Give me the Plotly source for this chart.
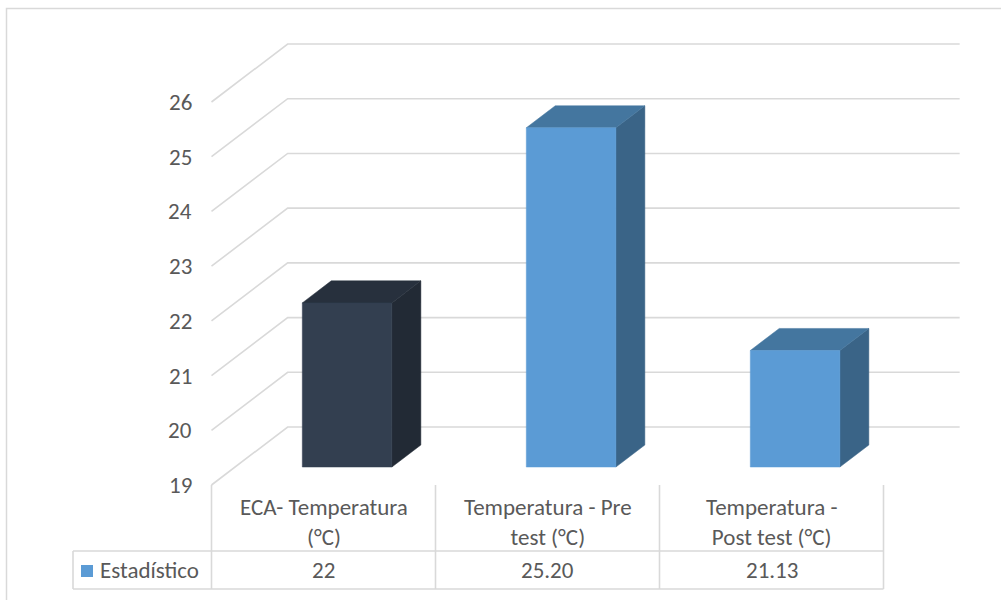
import plotly.graph_objects as go

# ---- data ----
categories = ["ECA- Temperatura<br>(°C)", "Temperatura - Pre<br>test (°C)", "Temperatura -<br>Post test (°C)"]
values = [22, 25.20, 21.13]
value_labels = ["22", "25.20", "21.13"]
series_name = "Estadístico"
tick_values = [19, 20, 21, 22, 23, 24, 25, 26]
tick_labels = ["19", "20", "21", "22", "23", "24", "25", "26"]

# ---- styling / pseudo-3D geometry ----
W, H = 1001, 600
FONT = "Carlito, Calibri, Lato, sans-serif"
FS = 23
TXT = "#595959"
GRID = "#d9d9d9"
Y_MIN = 19
DEPTH_X = 0.34      # floor depth in category units
DEPTH_Y = 1.06      # floor depth in value units
BAR_HALF = 0.2
BAR_F0, BAR_F1 = 0.31, 0.69   # bar depth span (fraction of floor depth)
FACE_COLORS = [
    ("#333f50", "#27303d", "#222a35"),
    ("#5b9bd5", "#44769f", "#3a6487"),
    ("#5b9bd5", "#44769f", "#3a6487"),
]

# axes: x in category units, y in value units (linear pixel mapping)
X0_PX, SLOT_PX = 323.5, 224.0
Y19_PX, UNIT_PX = 485.0, 54.714
x_range = [(0 - X0_PX) / SLOT_PX, (W - X0_PX) / SLOT_PX]
y_range = [Y_MIN - (H - Y19_PX) / UNIT_PX, Y_MIN + Y19_PX / UNIT_PX]

fig = go.Figure()

# gridlines: side-wall diagonal + back-wall horizontal
left, right = -0.5, len(categories) - 0.5
for v in tick_values:
    fig.add_trace(go.Scatter(
        x=[left, left + DEPTH_X, right + DEPTH_X],
        y=[v, v + DEPTH_Y, v + DEPTH_Y],
        mode="lines", line=dict(color=GRID, width=1.6),
        hoverinfo="skip", showlegend=False))


def poly(xs, ys, color):
    fig.add_trace(go.Scatter(
        x=xs + [xs[0]], y=ys + [ys[0]], mode="lines", fill="toself",
        fillcolor=color, line=dict(color=color, width=0.5),
        hoverinfo="skip", showlegend=False))


# bars: front, top and right-side faces
for i, v in enumerate(values):
    front, top, side = FACE_COLORS[i]
    fx, fy = BAR_F0 * DEPTH_X, BAR_F0 * DEPTH_Y
    bx, by = BAR_F1 * DEPTH_X, BAR_F1 * DEPTH_Y
    xl, xr = i - BAR_HALF, i + BAR_HALF
    base, topv = Y_MIN, v
    poly([xr + fx, xr + bx, xr + bx, xr + fx],
         [base + fy, base + by, topv + by, topv + fy], side)
    poly([xl + fx, xr + fx, xr + bx, xl + bx],
         [topv + fy, topv + fy, topv + by, topv + by], top)
    poly([xl + fx, xr + fx, xr + fx, xl + fx],
         [base + fy, base + fy, topv + fy, topv + fy], front)

annotations = []
# value-axis tick labels on the front plane
for v, t in zip(tick_values, tick_labels):
    annotations.append(dict(
        x=-0.58, y=v, xref="x", yref="y", text=t, showarrow=False,
        xanchor="right", yanchor="middle",
        font=dict(family=FONT, size=FS, color=TXT)))


# ---- data table below the plot ----
def py(p):
    return 1 - p / H


ROW_TOP, ROW_MID, ROW_BOT = 485, 551, 589
LEG_LEFT = (73 - X0_PX) / SLOT_PX
shapes = []
line = dict(color=GRID, width=1.6)
for k in range(len(categories) + 1):
    xk = -0.5 + k
    shapes.append(dict(type="line", xref="x", yref="paper", x0=xk, x1=xk,
                       y0=py(ROW_TOP), y1=py(ROW_BOT), line=line))
for yy in (ROW_MID, ROW_BOT):
    shapes.append(dict(type="line", xref="x", yref="paper", x0=LEG_LEFT, x1=right,
                       y0=py(yy), y1=py(yy), line=line))
shapes.append(dict(type="line", xref="x", yref="paper", x0=LEG_LEFT, x1=LEG_LEFT,
                   y0=py(ROW_MID), y1=py(ROW_BOT), line=line))
# legend key
shapes.append(dict(type="rect", xref="paper", yref="paper",
                   x0=81 / W, x1=93 / W, y0=py(577), y1=py(565),
                   fillcolor="#5b9bd5", line=dict(width=0)))
# outer chart border
shapes.append(dict(type="rect", xref="paper", yref="paper",
                   x0=6.5 / W, x1=1.05, y0=-0.05, y1=py(8.5),
                   line=dict(color=GRID, width=1.5), layer="below"))

for i, (c, lab) in enumerate(zip(categories, value_labels)):
    annotations.append(dict(
        x=i, y=py(522), xref="x", yref="paper", text=c, showarrow=False,
        xanchor="center", yanchor="middle", align="center",
        font=dict(family=FONT, size=FS, color=TXT)))
    annotations.append(dict(
        x=i, y=py(570), xref="x", yref="paper", text=lab, showarrow=False,
        xanchor="center", yanchor="middle",
        font=dict(family=FONT, size=FS, color=TXT)))
annotations.append(dict(
    x=98 / W, y=py(570), xref="paper", yref="paper", text=series_name,
    showarrow=False, xanchor="left", yanchor="middle",
    font=dict(family=FONT, size=FS, color=TXT)))

fig.update_layout(
    width=W, height=H, margin=dict(l=0, r=0, t=0, b=0),
    paper_bgcolor="white", plot_bgcolor="white",
    xaxis=dict(range=x_range, visible=False, fixedrange=True),
    yaxis=dict(range=y_range, visible=False, fixedrange=True),
    shapes=shapes, annotations=annotations, showlegend=False,
)

fig.write_html("out.html")
